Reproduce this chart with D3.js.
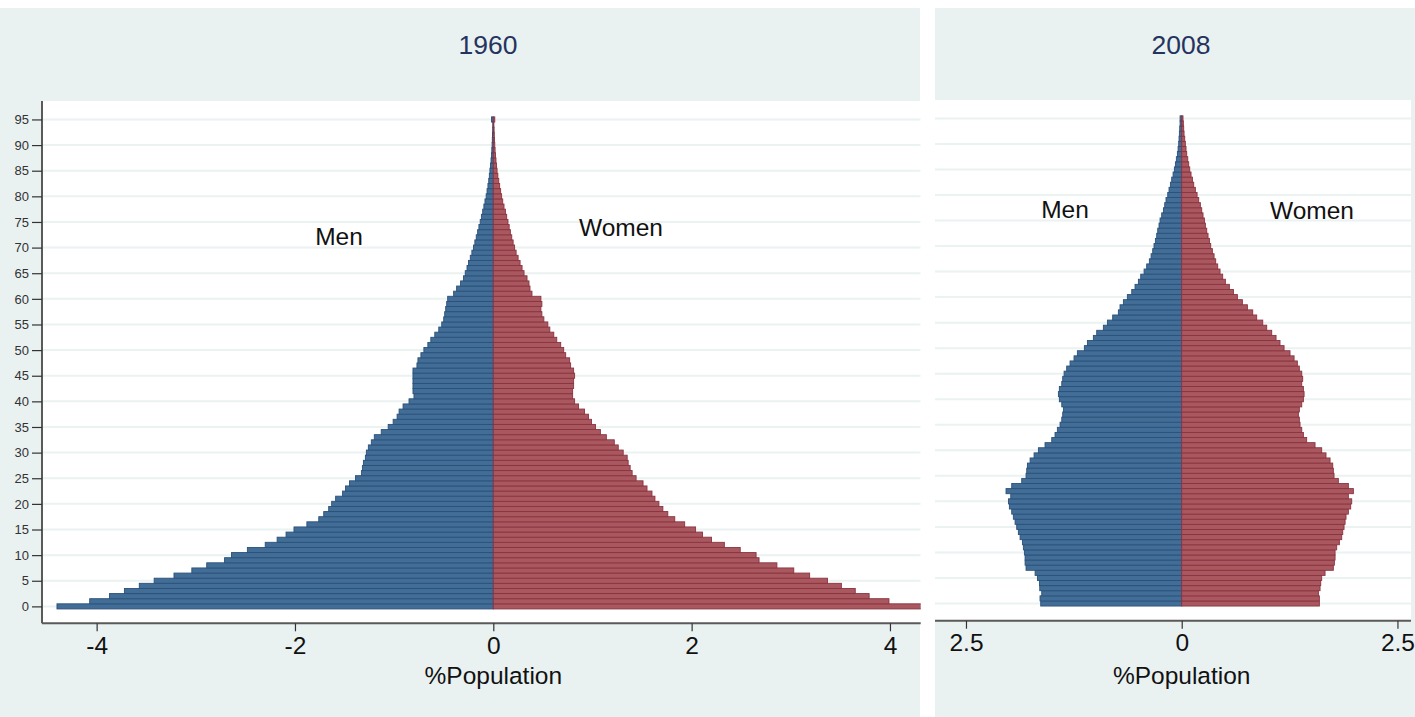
<!DOCTYPE html>
<html>
<head>
<meta charset="utf-8">
<script src="https://cdn.jsdelivr.net/npm/d3@7"></script>
<style>
  body { margin: 0; background: #fff; }
  svg { display: block; font-family: "Liberation Sans", Arial, sans-serif; }
</style>
</head>
<body>
<svg id="chart" width="1415" height="717"></svg>
<script>
// ages 0..95, shares of total population in %
const ages = d3.range(0, 96);
const yTicks = d3.range(0, 100, 5);

const men1960 = [4.40, 4.07, 3.87, 3.72, 3.57, 3.42, 3.22, 3.04, 2.89, 2.71,
  2.64, 2.48, 2.30, 2.18, 2.09, 2.01, 1.88, 1.76, 1.71, 1.66,
  1.63, 1.59, 1.52, 1.49, 1.45, 1.39, 1.33, 1.32, 1.31, 1.29,
  1.28, 1.26, 1.23, 1.20, 1.13, 1.06, 1.01, 0.97, 0.95, 0.91,
  0.85, 0.80, 0.81, 0.81, 0.81, 0.81, 0.81, 0.77, 0.76, 0.73,
  0.70, 0.66, 0.63, 0.59, 0.55, 0.52, 0.50, 0.49, 0.48, 0.47,
  0.46, 0.40, 0.37, 0.33, 0.30, 0.283, 0.265, 0.25, 0.232, 0.216,
  0.20, 0.186, 0.172, 0.158, 0.145, 0.132, 0.12, 0.107, 0.095, 0.084,
  0.072, 0.063, 0.054, 0.046, 0.04, 0.034, 0.028, 0.023, 0.019, 0.015,
  0.012, 0.01, 0.008, 0.006, 0.005, 0.018];

const women1960 = [4.35, 3.99, 3.79, 3.65, 3.51, 3.37, 3.19, 3.03, 2.86, 2.68,
  2.65, 2.49, 2.33, 2.20, 2.11, 2.04, 1.93, 1.83, 1.76, 1.71,
  1.67, 1.63, 1.60, 1.55, 1.51, 1.44, 1.40, 1.38, 1.36, 1.35,
  1.31, 1.26, 1.22, 1.14, 1.08, 1.03, 0.99, 0.96, 0.92, 0.86,
  0.82, 0.80, 0.80, 0.81, 0.81, 0.82, 0.81, 0.78, 0.77, 0.73,
  0.71, 0.68, 0.64, 0.61, 0.57, 0.55, 0.51, 0.49, 0.48, 0.49,
  0.48, 0.39, 0.37, 0.36, 0.34, 0.31, 0.29, 0.27, 0.25, 0.23,
  0.215, 0.20, 0.186, 0.172, 0.16, 0.148, 0.135, 0.122, 0.108, 0.095,
  0.084, 0.074, 0.064, 0.055, 0.046, 0.038, 0.032, 0.027, 0.022, 0.018,
  0.015, 0.012, 0.01, 0.008, 0.006, 0.015];

const men2008 = [1.634, 1.642, 1.622, 1.645, 1.649, 1.672, 1.699, 1.804, 1.815, 1.815,
  1.823, 1.835, 1.846, 1.873, 1.893, 1.912, 1.931, 1.951, 1.970, 1.997,
  2.008, 1.981, 2.036, 1.970, 1.854, 1.804, 1.796, 1.788, 1.757, 1.711,
  1.661, 1.584, 1.506, 1.468, 1.441, 1.410, 1.390, 1.379, 1.371, 1.390,
  1.418, 1.429, 1.418, 1.390, 1.379, 1.363, 1.333, 1.294, 1.248, 1.209,
  1.128, 1.093, 1.024, 0.985, 0.908, 0.861, 0.800, 0.734, 0.715, 0.676,
  0.630, 0.579, 0.541, 0.502, 0.475, 0.436, 0.406, 0.375, 0.355, 0.336,
  0.321, 0.305, 0.290, 0.278, 0.263, 0.251, 0.232, 0.212, 0.197, 0.182,
  0.162, 0.147, 0.131, 0.116, 0.100, 0.085, 0.073, 0.062, 0.050, 0.042,
  0.035, 0.031, 0.027, 0.023, 0.019, 0.019];

const women2008 = [1.595, 1.595, 1.584, 1.603, 1.611, 1.622, 1.661, 1.757, 1.769, 1.777,
  1.777, 1.796, 1.827, 1.854, 1.866, 1.881, 1.893, 1.904, 1.931, 1.958,
  1.970, 1.931, 1.989, 1.931, 1.815, 1.765, 1.757, 1.750, 1.719, 1.672,
  1.622, 1.545, 1.448, 1.410, 1.391, 1.371, 1.363, 1.352, 1.363, 1.391,
  1.410, 1.418, 1.410, 1.391, 1.402, 1.391, 1.363, 1.340, 1.302, 1.255,
  1.186, 1.139, 1.093, 1.043, 0.985, 0.939, 0.869, 0.823, 0.761, 0.703,
  0.645, 0.599, 0.552, 0.506, 0.475, 0.444, 0.417, 0.394, 0.375, 0.355,
  0.336, 0.321, 0.305, 0.290, 0.274, 0.263, 0.247, 0.232, 0.216, 0.197,
  0.178, 0.158, 0.139, 0.124, 0.108, 0.093, 0.081, 0.070, 0.058, 0.050,
  0.042, 0.035, 0.027, 0.023, 0.019, 0.015];

const BG = '#e9f1f1';
const GRID = '#eaf2f2';
const MEN_FILL = '#426d97', MEN_LINE = '#2a5179';
const WOMEN_FILL = '#a9585f', WOMEN_LINE = '#8b3340';
const FONT = '"Liberation Sans", Arial, sans-serif';

const panels = [
  {
    title: '1960', men: men1960, women: women1960,
    outer: { x0: 0, x1: 920, y0: 8, y1: 717 },
    plot: { x0: 42, x1: 920.7, y0: 101, y1: 623.3 },
    xDomain: [-4.551, 4.31], yDomain: [-3.3, 98.6],
    xTicks: [-4, -2, 0, 2, 4], yLabels: true,
    titleX: 488, menLabel: [339, 245], womenLabel: [621, 236]
  },
  {
    title: '2008', men: men2008, women: women2008,
    outer: { x0: 935, x1: 1415, y0: 8, y1: 717 },
    plot: { x0: 935, x1: 1411, y0: 100, y1: 620.7 },
    xDomain: [-2.859, 2.657], yDomain: [-3.37, 98.6],
    xTicks: [-2.5, 0, 2.5], yLabels: false,
    titleX: 1181, menLabel: [1065, 218], womenLabel: [1312, 219]
  }
];

const svg = d3.select('#chart');

panels.forEach((p, i) => {
  const g = svg.append('g');
  const x = d3.scaleLinear().domain(p.xDomain).range([p.plot.x0, p.plot.x1]);
  const y = d3.scaleLinear().domain(p.yDomain).range([p.plot.y1, p.plot.y0]);
  const band = Math.abs(y(0) - y(1));

  // outer background and strip
  g.append('rect')
    .attr('x', p.outer.x0).attr('y', p.outer.y0)
    .attr('width', p.outer.x1 - p.outer.x0).attr('height', p.outer.y1 - p.outer.y0)
    .attr('fill', BG);

  g.append('text')
    .attr('x', p.titleX).attr('y', 54)
    .attr('text-anchor', 'middle')
    .attr('font-size', 26.5)
    .attr('fill', '#25335f')
    .text(p.title);

  // plot region
  g.append('rect')
    .attr('x', p.plot.x0).attr('y', p.plot.y0)
    .attr('width', p.plot.x1 - p.plot.x0).attr('height', p.plot.y1 - p.plot.y0)
    .attr('fill', '#fff');

  const clipId = 'clip' + i;
  svg.append('defs').append('clipPath').attr('id', clipId)
    .append('rect')
    .attr('x', p.plot.x0).attr('y', p.plot.y0)
    .attr('width', p.plot.x1 - p.plot.x0).attr('height', p.plot.y1 - p.plot.y0);

  const inner = g.append('g').attr('clip-path', `url(#${clipId})`);

  inner.selectAll('.grid')
    .data(yTicks)
    .join('line')
    .attr('class', 'grid')
    .attr('x1', p.plot.x0).attr('x2', p.plot.x1)
    .attr('y1', d => y(d)).attr('y2', d => y(d))
    .attr('stroke', GRID)
    .attr('stroke-width', 2);

  inner.selectAll('.men')
    .data(ages)
    .join('rect')
    .attr('class', 'men')
    .attr('x', a => x(-p.men[a]))
    .attr('width', a => x(0) - x(-p.men[a]))
    .attr('y', a => y(a) - band / 2)
    .attr('height', band)
    .attr('fill', MEN_FILL)
    .attr('stroke', MEN_LINE)
    .attr('stroke-width', 0.9);

  inner.selectAll('.women')
    .data(ages)
    .join('rect')
    .attr('class', 'women')
    .attr('x', x(0))
    .attr('width', a => x(p.women[a]) - x(0))
    .attr('y', a => y(a) - band / 2)
    .attr('height', band)
    .attr('fill', WOMEN_FILL)
    .attr('stroke', WOMEN_LINE)
    .attr('stroke-width', 0.9);

  // x axis; the 2008 panel shows absolute values on both sides
  const xAxis = d3.axisBottom(x)
    .tickValues(p.xTicks)
    .tickSize(8)
    .tickPadding(5)
    .tickFormat(d => i === 1 ? String(Math.abs(d)) : String(d));

  const gx = g.append('g')
    .attr('transform', `translate(0,${p.plot.y1})`)
    .call(xAxis);
  gx.select('.domain')
    .attr('d', `M${p.plot.x0},0H${p.plot.x1}`)
    .attr('stroke', '#5a5a5a')
    .attr('stroke-width', 2);
  gx.selectAll('.tick line').attr('stroke', '#333').attr('stroke-width', 1.2);
  gx.selectAll('.tick text')
    .attr('font-size', 24.5)
    .attr('fill', '#111')
    .attr('font-family', FONT);

  g.append('text')
    .attr('x', x(0)).attr('y', 684)
    .attr('text-anchor', 'middle')
    .attr('font-size', 24.5)
    .attr('fill', '#111')
    .text('%Population');

  // y axis (left panel only)
  if (p.yLabels) {
    const yAxis = d3.axisLeft(y)
      .tickValues(yTicks)
      .tickSize(10)
      .tickPadding(3);
    const gy = g.append('g')
      .attr('transform', `translate(${p.plot.x0},0)`)
      .call(yAxis);
    gy.select('.domain')
      .attr('d', `M0,${p.plot.y0}V${p.plot.y1}`)
      .attr('stroke', '#5a5a5a')
      .attr('stroke-width', 2);
    gy.selectAll('.tick line').attr('stroke', '#333').attr('stroke-width', 1.2);
    gy.selectAll('.tick text')
      .attr('font-size', 13)
      .attr('fill', '#333')
      .attr('font-family', FONT);
  }

  g.append('text')
    .attr('x', p.menLabel[0]).attr('y', p.menLabel[1])
    .attr('text-anchor', 'middle')
    .attr('font-size', 24.5)
    .attr('fill', '#111')
    .text('Men');

  g.append('text')
    .attr('x', p.womenLabel[0]).attr('y', p.womenLabel[1])
    .attr('text-anchor', 'middle')
    .attr('font-size', 24.5)
    .attr('fill', '#111')
    .text('Women');
});
</script>
</body>
</html>
